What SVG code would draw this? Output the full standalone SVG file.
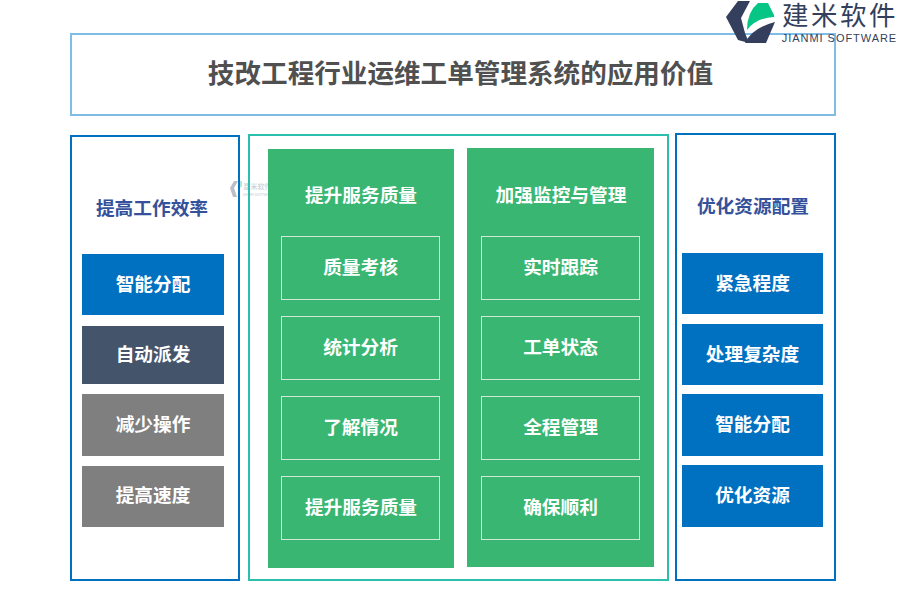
<svg xmlns="http://www.w3.org/2000/svg" width="900" height="600" viewBox="0 0 900 600">
<style>
text{font-family:"Noto Sans CJK SC","Liberation Sans",sans-serif;font-weight:700;text-anchor:middle}
.w{fill:#fff;font-size:18.7px}
.h{fill:#35519b;font-size:18.7px}
.o{fill:none;stroke:#0070c0;stroke-width:2}
.b{fill:#0070c0}.d{fill:#44546a}.g{fill:#7f7f7f}.gr{fill:#39b672}
.i{fill:none;stroke:#cfe8d8;stroke-width:1}
</style>
<rect width="900" height="600" fill="#fff"/>
<g id="title"><rect x="71" y="34" width="764" height="81" fill="none" stroke="#80bde6" stroke-width="2"/>
<text x="460.500" y="83" font-size="26.600" style="fill:#505050">技改工程行业运维工单管理系统的应用价值</text></g>
<g id="logo">
<path d="M738 1L750 1L741 18L745 33L749 43L738 40L726 17Z" fill="#333f5c"/>
<path d="M747 30Q747 12 758 3L768 3L774 15L774 17Q756 18 747 30Z" fill="#06c585"/>
<path d="M775 22L766 43L745 43Q752 28 775 22Z" fill="#333f5c"/>
<text x="840" y="25" font-size="26.500" style="fill:#333f5c;font-weight:400;letter-spacing:2.500px">建米软件</text>
<text x="839.500" y="42" font-size="11" style="fill:#333f5c;font-family:'Liberation Sans',sans-serif;font-weight:400;letter-spacing:.95px">JIANMI SOFTWARE</text>
</g>
<g id="watermark" opacity=".6">
<path d="M234 181L238 181L234 188L237 197L233 197L230 188Z" fill="#8c93a3"/>
<path d="M238 190Q237 184 240 181L242 181L242 186Z" fill="#7fd9bd"/>
<text x="257.500" y="189" font-size="7" style="fill:#9aa0ad;font-weight:400">建米软件</text>
<text x="257.500" y="196" font-size="3.500" style="fill:#9aa0ad;font-weight:400">JIANMI SOFTWARE</text>
</g>
<g id="left-panel"><rect class="o" x="71" y="136" width="168" height="444"/>
<text class="h" x="152" y="215">提高工作效率</text></g>
<g id="l1"><rect class="b" x="82" y="254" width="142" height="61"/><text class="w" x="153" y="291">智能分配</text></g>
<g id="l2"><rect class="d" x="82" y="326" width="142" height="58"/><text class="w" x="153" y="361">自动派发</text></g>
<g id="l3"><rect class="g" x="82" y="394" width="142" height="62"/><text class="w" x="153" y="431">减少操作</text></g>
<g id="l4"><rect class="g" x="82" y="466" width="142" height="61"/><text class="w" x="153" y="502">提高速度</text></g>
<g id="center-panel"><rect x="249" y="135" width="419" height="445" fill="none" stroke="#2bbfae" stroke-width="2"/></g>
<g id="col1"><rect class="gr" x="268" y="149" width="186" height="419"/>
<text class="w" x="361" y="202">提升服务质量</text></g>
<g id="c1a"><rect class="i" x="281.500" y="236.500" width="158" height="63"/><text class="w" x="360.500" y="274">质量考核</text></g>
<g id="c1b"><rect class="i" x="281.500" y="316.500" width="158" height="63"/><text class="w" x="360.500" y="354">统计分析</text></g>
<g id="c1c"><rect class="i" x="281.500" y="396.500" width="158" height="63"/><text class="w" x="360.500" y="434">了解情况</text></g>
<g id="c1d"><rect class="i" x="281.500" y="476.500" width="158" height="63"/><text class="w" x="361" y="514">提升服务质量</text></g>
<g id="col2"><rect class="gr" x="467" y="148" width="187" height="419"/>
<text class="w" x="561" y="202">加强监控与管理</text></g>
<g id="c2a"><rect class="i" x="481.500" y="236.500" width="158" height="63"/><text class="w" x="560.500" y="274">实时跟踪</text></g>
<g id="c2b"><rect class="i" x="481.500" y="316.500" width="158" height="63"/><text class="w" x="560.500" y="354">工单状态</text></g>
<g id="c2c"><rect class="i" x="481.500" y="396.500" width="158" height="63"/><text class="w" x="560.500" y="434">全程管理</text></g>
<g id="c2d"><rect class="i" x="481.500" y="476.500" width="158" height="63"/><text class="w" x="560.500" y="514">确保顺利</text></g>
<g id="right-panel"><rect class="o" x="676" y="134" width="159" height="446"/>
<text class="h" x="753" y="213">优化资源配置</text></g>
<g id="r1"><rect class="b" x="682" y="253" width="141" height="61"/><text class="w" x="752.500" y="290">紧急程度</text></g>
<g id="r2"><rect class="b" x="682" y="324" width="141" height="61"/><text class="w" x="752.500" y="361">处理复杂度</text></g>
<g id="r3"><rect class="b" x="682" y="394" width="141" height="62"/><text class="w" x="752.500" y="431">智能分配</text></g>
<g id="r4"><rect class="b" x="682" y="465" width="141" height="62"/><text class="w" x="752.500" y="502">优化资源</text></g>
<g id="connectors"></g>
</svg>
